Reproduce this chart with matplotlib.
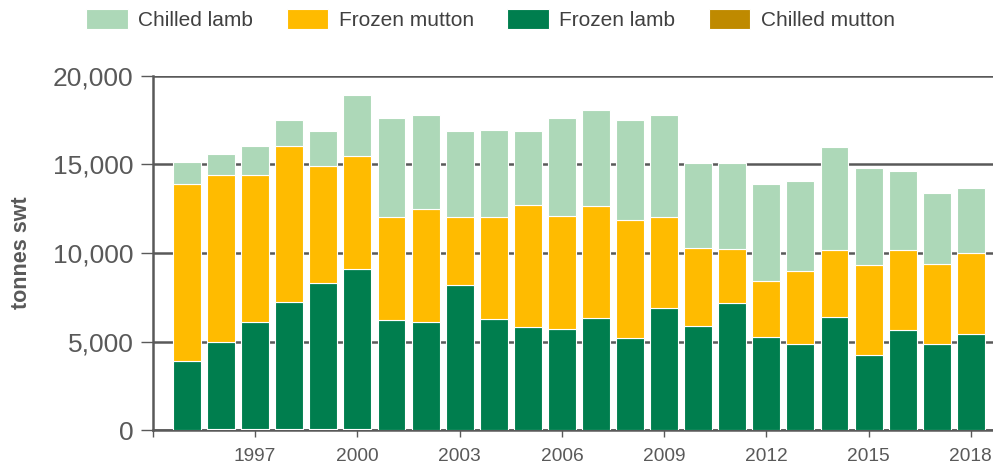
import numpy as np
import matplotlib.pyplot as plt

years = list(range(1995, 2019))
chilled_mutton = [0, 80, 80, 80, 80, 80, 30, 0, 0, 0, 0, 0,
                  0, 0, 0, 0, 0, 0, 0, 0, 0, 0, 0, 0]
frozen_lamb = [3890, 4880, 6000, 7150, 8200, 8990, 6200, 6090, 8210, 6250, 5800, 5730,
               6330, 5220, 6870, 5900, 7190, 5280, 4880, 6370, 4230, 5630, 4880, 5430]
frozen_mutton = [10010, 9460, 8340, 8810, 6610, 6390, 5790, 6370, 3810, 5770, 6930, 6380,
                 6310, 6630, 5170, 4390, 3060, 3130, 4080, 3810, 5070, 4550, 4490, 4580]
chilled_lamb = [1250, 1150, 1620, 1480, 1970, 3470, 5610, 5340, 4880, 4940, 4170, 5520,
                5430, 5670, 5760, 4810, 4850, 5490, 5090, 5780, 5500, 4450, 4040, 3640]

xtick_years = [1997, 2000, 2003, 2006, 2009, 2012, 2015, 2018]

plt.rcParams['font.family'] = ['Liberation Sans', 'DejaVu Sans']
grey = '#595959'

fig = plt.figure(figsize=(9.93, 4.68), dpi=100)
ax = fig.add_axes([0.154, 0.081, 0.846, 0.757])

x = np.array(years)
b1 = np.array(chilled_mutton)
b2 = b1 + np.array(frozen_lamb)
b3 = b2 + np.array(frozen_mutton)

kw = dict(width=0.82, edgecolor='white', linewidth=0.8, zorder=3)
h_cm = ax.bar(x, chilled_mutton, color='#bf8a00', **kw)
h_fl = ax.bar(x, frozen_lamb, bottom=b1, color='#007e4e', **kw)
h_fm = ax.bar(x, frozen_mutton, bottom=b2, color='#ffbb00', **kw)
h_cl = ax.bar(x, chilled_lamb, bottom=b3, color='#add8b8', **kw)

ax.set_ylim(0, 20000)
ax.set_xlim(1994, 2018.65)
ax.set_yticks([0, 5000, 10000, 15000, 20000])
ax.set_yticklabels(['0', '5,000', '10,000', '15,000', '20,000'], fontsize=19, color=grey)
ax.set_xticks([1994] + xtick_years)
ax.set_xticklabels([''] + [str(y) for y in xtick_years], fontsize=13.8, color=grey)

ax.yaxis.grid(True, color=grey, linewidth=1.8, zorder=0)
ax.set_axisbelow(True)
for s in ['top', 'right']:
    ax.spines[s].set_visible(False)
for s in ['left', 'bottom']:
    ax.spines[s].set_color(grey)
    ax.spines[s].set_linewidth(1.8)
ax.tick_params(axis='y', length=9, width=1, color=grey, pad=5)
ax.tick_params(axis='x', length=5, width=1, color=grey, pad=8)

ax.set_ylabel('tonnes swt', fontsize=15.5, fontweight='bold', color=grey)
ax.yaxis.set_label_coords(-0.144, 0.5)

fig.legend([h_cl, h_fm, h_fl, h_cm],
           ['Chilled lamb', 'Frozen mutton', 'Frozen lamb', 'Chilled mutton'],
           loc='center', bbox_to_anchor=(0.494, 0.958), ncol=4, frameon=False,
           fontsize=15, handlelength=2.0, handleheight=1.1, handletextpad=0.5,
           columnspacing=1.6, labelcolor='#404040')

fig.savefig('out.png', dpi=100)
